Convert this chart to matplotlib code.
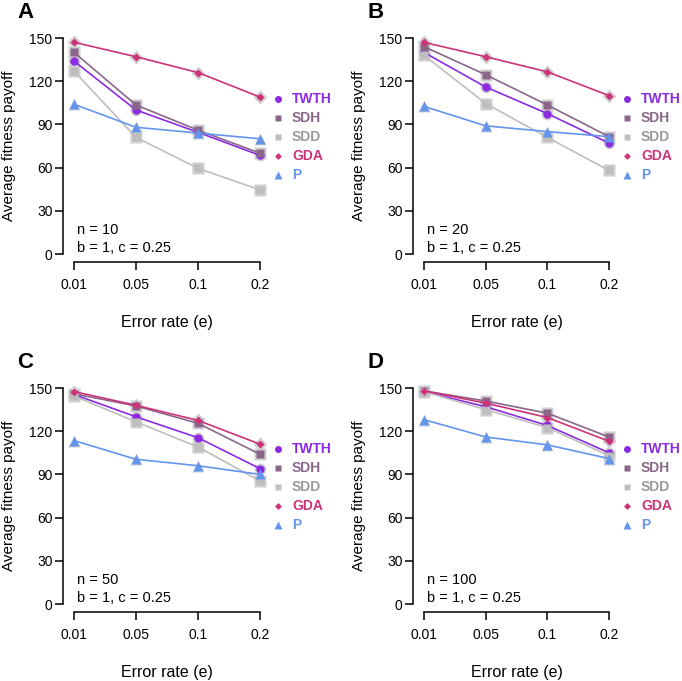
import matplotlib
matplotlib.use("Agg")
import matplotlib.pyplot as plt
from matplotlib.lines import Line2D

plt.rcParams['font.family'] = ['Liberation Sans', 'DejaVu Sans']

# x categories (error rate) and one panel per group size n
error_rates = ['0.01', '0.05', '0.1', '0.2']
n_values = [10, 20, 50, 100]
panel_letters = ['A', 'B', 'C', 'D']
y_ticks = [0, 30, 60, 90, 120, 150]

# average fitness payoff, one row per panel (n = 10, 20, 50, 100)
twth = [[134, 100, 84.5, 68.5], [140, 116, 97.5, 77], [145.5, 130, 115.5, 94], [147.5, 137, 124, 105]]
sdh = [[140, 103.5, 86, 70], [144, 124.5, 103.5, 81.5], [146, 137.5, 125.5, 104], [148, 141, 132.5, 116]]
sdd = [[127, 81, 59.5, 44.5], [138, 104.5, 81, 58], [144.5, 126.5, 109, 85.5], [147.5, 135, 122.5, 103]]
gda = [[147, 137, 126, 109], [147, 137, 126.5, 110], [147.5, 138, 127.5, 111], [148, 139.5, 129.5, 113]]
p_rule = [[104, 88, 84, 80], [102.5, 89, 85, 81.5], [113.5, 100.5, 96, 90], [128, 116, 110.5, 101]]

series_names = ['TWTH', 'SDH', 'SDD', 'GDA', 'P']
series_data = [twth, sdh, sdd, gda, p_rule]
colors = ['#8A2BE2', '#8B668B', '#BEBEBE', '#CD3278', '#6495ED']
text_colors = ['#8A2BE2', '#8B668B', '#9A9A9A', '#CD3278', '#6495ED']
markers = ['o', 's', 's', 'D', '^']
msizes = [6, 5.5, 5.5, 4.5, 6.5]

W, H = 682, 681
fig = plt.figure(figsize=(W / 100, H / 100), dpi=100)

# axes boxes in pixels: (left, right, top, bottom) of the data range
boxes = [(74, 260, 38, 254), (424, 609, 38, 254), (74, 260, 388, 604), (424, 609, 388, 604)]

for k, (l, r, t, b) in enumerate(boxes):
    ax = fig.add_axes([l / W, 1 - b / H, (r - l) / W, (b - t) / H])
    x = list(range(len(error_rates)))

    # grey halo behind the points
    for vals, m, ms in zip(series_data, markers, msizes):
        ax.plot(x, vals[k], ls='none', marker=m, ms=ms + 2.5, color='#D0D0D0',
                mec='none', clip_on=False, zorder=2)
    for vals, c, m, ms in zip(series_data, colors, markers, msizes):
        ax.plot(x, vals[k], color=c, lw=1.2, marker=m, ms=ms, mec='none',
                clip_on=False, zorder=3)

    ax.set_xlim(0, 3)
    ax.set_ylim(0, 150)
    ax.set_xticks(x)
    ax.set_xticklabels(error_rates)
    ax.set_yticks(y_ticks)
    for s in ['top', 'right']:
        ax.spines[s].set_visible(False)
    ax.spines['left'].set_position(('outward', 8))
    ax.spines['bottom'].set_position(('outward', 6))
    ax.spines['left'].set_bounds(0, 150)
    ax.spines['bottom'].set_bounds(0, 3)
    ax.spines['left'].set_linewidth(1.1)
    ax.spines['bottom'].set_linewidth(1.1)
    ax.tick_params(axis='both', direction='out', length=5.5, width=1.1,
                   labelsize=10, colors='black')
    ax.tick_params(axis='x', pad=6)
    ax.tick_params(axis='y', pad=2)
    ax.patch.set_visible(False)

    ax.text(0.5, -0.315, 'Error rate (e)', transform=ax.transAxes,
            ha='center', va='center', fontsize=11.5)
    ax.text(-0.35, 0.5, 'Average fitness payoff', transform=ax.transAxes,
            rotation=90, ha='center', va='center', fontsize=11)
    ax.text(-0.305, 1.093, panel_letters[k], transform=ax.transAxes,
            fontsize=16, fontweight='bold', va='baseline', ha='left')
    ax.text(0.016, 0.111, 'n = %d' % n_values[k], transform=ax.transAxes,
            fontsize=10.5, va='center', ha='left')
    ax.text(0.016, 0.028, 'b = 1, c = 0.25', transform=ax.transAxes,
            fontsize=10.5, va='center', ha='left')

    handles = [Line2D([], [], ls='none', marker=m, color=c, ms=ms - 1, mec='none')
               for c, m, ms in zip(colors, markers, msizes)]
    leg = ax.legend(handles, series_names, loc='upper left',
                    bbox_to_anchor=(1.075, 0.748), borderaxespad=0, borderpad=0,
                    frameon=False, handlelength=0.6, handletextpad=0.7,
                    labelspacing=0.36, prop={'weight': 'bold', 'size': 10})
    for txt, tc in zip(leg.get_texts(), text_colors):
        txt.set_color(tc)

fig.savefig('out.png', dpi=100)
